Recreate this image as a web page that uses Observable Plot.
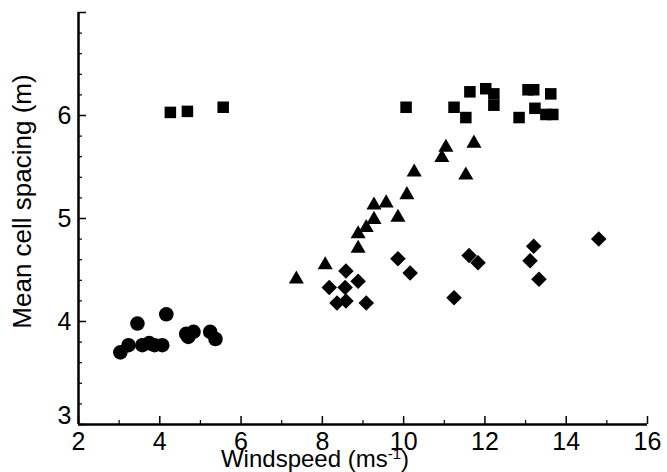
<!DOCTYPE html>
<html>
<head>
<meta charset="utf-8">
<script src="https://cdn.jsdelivr.net/npm/d3@7"></script>
<script src="https://cdn.jsdelivr.net/npm/@observablehq/plot@0.6"></script>
<style>
  html, body { margin: 0; padding: 0; background: #fff; }
  #chart { width: 667px; height: 472px; }
</style>
</head>
<body>
<div id="chart"></div>
<script>
// Series: [windspeed, mean cell spacing]
const circles = [
  [3.03, 3.70], [3.23, 3.77], [3.45, 3.98], [3.57, 3.77], [3.74, 3.79],
  [3.87, 3.77], [4.06, 3.77], [4.16, 4.07], [4.65, 3.88], [4.70, 3.85],
  [4.83, 3.90], [5.24, 3.90], [5.37, 3.83]
];
const squares = [
  [4.26, 6.03], [4.68, 6.04], [5.56, 6.08], [10.06, 6.08], [11.24, 6.08],
  [11.53, 5.98], [11.63, 6.23], [12.02, 6.26], [12.22, 6.21], [12.22, 6.10],
  [13.06, 6.25], [13.20, 6.25], [13.62, 6.21], [12.84, 5.98], [13.23, 6.07],
  [13.50, 6.01], [13.67, 6.01]
];
const triangles = [
  [7.36, 4.41], [8.07, 4.55], [8.88, 4.71], [8.88, 4.85], [9.08, 4.91],
  [9.27, 4.99], [9.86, 5.01], [9.27, 5.13], [9.57, 5.15], [10.08, 5.23],
  [10.26, 5.45], [10.94, 5.59], [11.04, 5.69], [11.53, 5.42], [11.73, 5.73]
];
const diamonds = [
  [8.58, 4.49], [8.17, 4.33], [8.88, 4.39], [8.56, 4.33], [8.36, 4.18],
  [8.58, 4.20], [9.08, 4.18], [9.86, 4.61], [10.16, 4.47], [11.24, 4.23],
  [11.61, 4.64], [11.83, 4.57], [13.20, 4.73], [13.11, 4.59], [13.33, 4.41],
  [14.80, 4.80]
];
const xTicks = [2, 4, 6, 8, 10, 12, 14, 16];
const xMinorTicks = [3, 5, 7, 9, 11, 13, 15];
const yTicks = [3, 4, 5, 6, 7];
const yMinorTicks = [3.2, 3.4, 3.6, 3.8, 4.2, 4.4, 4.6, 4.8, 5.2, 5.4, 5.6, 5.8, 6.2, 6.4, 6.6, 6.8];
const yLabels = [4, 5, 6];
const yCornerLabel = [3];
const xTitle = "Windspeed (ms-1)";
const yTitle = "Mean cell spacing (m)";

const chart = Plot.plot({
  width: 667,
  height: 472,
  marginLeft: 78,
  marginRight: 20,
  marginTop: 12,
  marginBottom: 48,
  x: {domain: [2, 16]},
  y: {domain: [3, 7]},
  style: {fontFamily: "'Liberation Sans', Arial, sans-serif", background: "#fff", color: "#000"},
  marks: [
    // inward ticks
    Plot.axisX({ticks: xTicks, tickSize: -8, tickFormat: () => "", strokeWidth: 1.5}),
    Plot.axisX({ticks: xMinorTicks, tickSize: -4, tickFormat: () => "", strokeWidth: 1.2}),
    Plot.axisY({ticks: yTicks, tickSize: -8, tickFormat: () => "", strokeWidth: 1.5, label: null}),
    Plot.axisY({ticks: yMinorTicks, tickSize: -4, tickFormat: () => "", strokeWidth: 1.2, label: null}),
    // axis lines
    Plot.ruleY([3], {strokeWidth: 2.5}),
    Plot.ruleX([2], {strokeWidth: 2.5}),
    // tick labels
    Plot.text(xTicks, {x: d => d, frameAnchor: "bottom", lineAnchor: "top", dy: 8, fontSize: 25}),
    Plot.text(yLabels, {y: d => d, frameAnchor: "left", textAnchor: "end", dx: -7, fontSize: 25}),
    Plot.text(yCornerLabel, {y: d => d, frameAnchor: "left", textAnchor: "end", dx: -7, dy: -9, fontSize: 25}),
    // titles
    Plot.text([xTitle], {frameAnchor: "bottom", textAnchor: "middle", lineAnchor: "middle", dx: -48, dy: 35, fontSize: 24, className: "xtitle"}),
    Plot.text([yTitle], {frameAnchor: "left", textAnchor: "middle", lineAnchor: "middle", rotate: -90, dx: -56, dy: -17, fontSize: 26}),
    // data
    Plot.dot(circles, {x: d => d[0], y: d => d[1], symbol: "circle", r: 7.3, fill: "#000", stroke: "none"}),
    Plot.dot(squares, {x: d => d[0], y: d => d[1], symbol: "square", r: 6.5, fill: "#000", stroke: "none"}),
    Plot.dot(triangles, {x: d => d[0], y: d => d[1], symbol: "triangle", r: 5.6, fill: "#000", stroke: "none"}),
    Plot.dot(diamonds, {x: d => d[0], y: d => d[1], symbol: "diamond2", r: 7, fill: "#000", stroke: "none"})
  ]
});
document.getElementById("chart").appendChild(chart);

// render "-1" of the x title as a superscript
chart.querySelectorAll("g.xtitle text").forEach(t => {
  if (t.textContent === xTitle) {
    t.textContent = "";
    const ns = "http://www.w3.org/2000/svg";
    const a = document.createElementNS(ns, "tspan"); a.textContent = "Windspeed (ms";
    const b = document.createElementNS(ns, "tspan"); b.textContent = "-1"; b.setAttribute("dy", "-8"); b.setAttribute("font-size", "15");
    const c = document.createElementNS(ns, "tspan"); c.textContent = ")"; c.setAttribute("dy", "8");
    t.append(a, b, c);
  }
});
</script>
</body>
</html>
